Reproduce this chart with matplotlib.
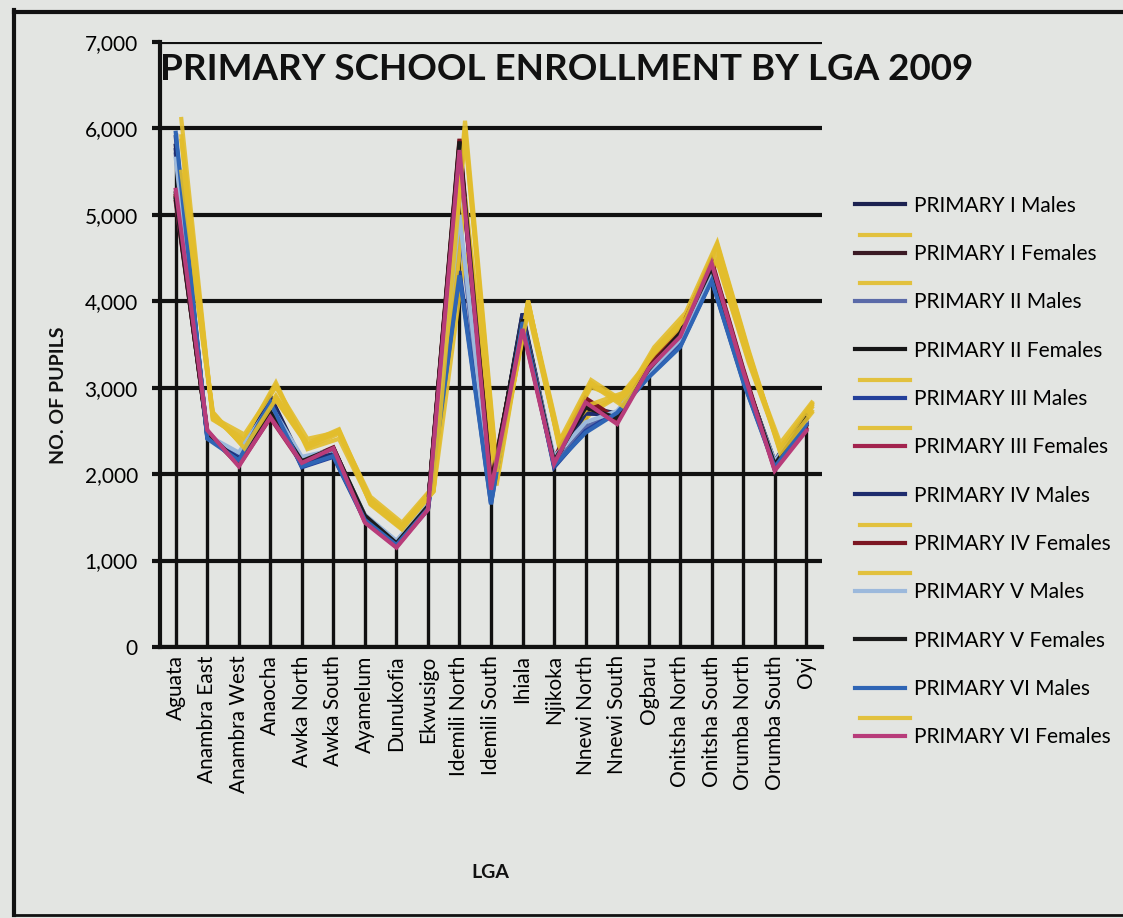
import matplotlib
matplotlib.use('Agg')
import matplotlib.pyplot as plt
import matplotlib.patheffects as pe
from matplotlib.lines import Line2D
from matplotlib.ticker import StrMethodFormatter

lgas = ['Aguata', 'Anambra East', 'Anambra West', 'Anaocha', 'Awka North', 'Awka South',
        'Ayamelum', 'Dunukofia', 'Ekwusigo', 'Idemili North', 'Idemili South', 'Ihiala',
        'Njikoka', 'Nnewi North', 'Nnewi South', 'Ogbaru', 'Onitsha North', 'Onitsha South',
        'Orumba North', 'Orumba South', 'Oyi']

p1_m = [5800, 2450, 2150, 2900, 2150, 2250, 1520, 1220, 1640, 5750, 1800, 3850, 2150, 2780, 2700, 3250, 3650, 4350, 3150, 2150, 2700]
p1_f = [5250, 2480, 2120, 2700, 2130, 2280, 1500, 1200, 1620, 5800, 1850, 3780, 2120, 2800, 2650, 3200, 3620, 4400, 3180, 2080, 2600]
p2_m = [5700, 2430, 2180, 2820, 2100, 2260, 1480, 1190, 1600, 4900, 1700, 3800, 2100, 2550, 2700, 3150, 3520, 4260, 3100, 2100, 2600]
p2_f = [5200, 2460, 2150, 2750, 2140, 2300, 1510, 1210, 1630, 5820, 1820, 3820, 2140, 2760, 2660, 3220, 3640, 4380, 3170, 2120, 2650]
p3_m = [5900, 2420, 2200, 2850, 2080, 2200, 1460, 1170, 1590, 4350, 1660, 3800, 2080, 2500, 2720, 3130, 3480, 4250, 3080, 2090, 2580]
p3_f = [5150, 2500, 2100, 2650, 2120, 2290, 1450, 1160, 1600, 5700, 1830, 3700, 2130, 2850, 2600, 3230, 3600, 4450, 3200, 2050, 2520]
p4_m = [5750, 2440, 2170, 2880, 2120, 2240, 1500, 1210, 1620, 5780, 1750, 3860, 2160, 2700, 2690, 3240, 3630, 4320, 3140, 2140, 2680]
p4_f = [5220, 2470, 2110, 2680, 2150, 2310, 1490, 1180, 1640, 5880, 1900, 3750, 2180, 2880, 2640, 3260, 3660, 4470, 3220, 2060, 2560]
p5_m = [5650, 2450, 2250, 2800, 2200, 2280, 1530, 1230, 1650, 5000, 1780, 3780, 2200, 2600, 2730, 3180, 3560, 4300, 3120, 2150, 2620]
p5_f = [5180, 2480, 2130, 2720, 2150, 2300, 1520, 1200, 1630, 5850, 1860, 3790, 2150, 2770, 2650, 3210, 3630, 4390, 3160, 2110, 2640]
p6_m = [5950, 2410, 2160, 2830, 2090, 2210, 1470, 1180, 1600, 4300, 1650, 3760, 2100, 2480, 2710, 3120, 3470, 4240, 3070, 2080, 2570]
p6_f = [5290, 2510, 2090, 2660, 2130, 2300, 1440, 1150, 1590, 5750, 1820, 3680, 2120, 2830, 2580, 3220, 3590, 4440, 3190, 2040, 2500]

series = [
    ('PRIMARY I Males', p1_m, '#1c2150', False),
    ('PRIMARY I Females', p1_f, '#3b1a24', True),
    ('PRIMARY II Males', p2_m, '#5a6aa8', True),
    ('PRIMARY II Females', p2_f, '#161616', False),
    ('PRIMARY III Males', p3_m, '#24409a', True),
    ('PRIMARY III Females', p3_f, '#a3234e', True),
    ('PRIMARY IV Males', p4_m, '#1e2c6e', False),
    ('PRIMARY IV Females', p4_f, '#7c1622', True),
    ('PRIMARY V Males', p5_m, '#9cb9dc', True),
    ('PRIMARY V Females', p5_f, '#1b1b1b', False),
    ('PRIMARY VI Males', p6_m, '#2f65b5', False),
    ('PRIMARY VI Females', p6_f, '#b83c7a', True),
]

bg = '#e3e5e2'
plt.rcParams['font.family'] = ['Lato', 'DejaVu Sans']

fig = plt.figure(figsize=(11.23, 9.18), dpi=100)
fig.patch.set_facecolor(bg)
ax = fig.add_axes([160/1123, 1-647/918, 662/1123, 605/918])
ax.set_facecolor(bg)

x = list(range(len(lgas)))

# yellow ink printed off-register, shows as a ghost line
ghost = [pe.SimpleLineShadow(offset=(4, 13), shadow_color='#e2bd2c', alpha=0.9), pe.Normal()]

handles = []
for name, vals, col, yel in series:
    ln, = ax.plot(x, vals, color=col, lw=3, label=name, zorder=3,
                  path_effects=ghost if yel else None, solid_joinstyle='miter')
    handles.append(ln)

# drop lines
tops = [max(v[i] for _, v, _, _ in series) for i in x]
ax.vlines(x, 0, tops, color='#111111', lw=2.4, zorder=2)

ax.set_xlim(-0.5, len(lgas)-0.5)
ax.set_ylim(0, 7000)
ax.set_yticks(range(0, 7001, 1000))
ax.yaxis.set_major_formatter(StrMethodFormatter('{x:,.0f}'))
ax.grid(axis='y', color='#111111', lw=3, zorder=1)
ax.set_axisbelow(True)
ax.set_xticks(x)
ax.set_xticklabels(lgas, rotation=90, fontsize=15)
ax.tick_params(axis='x', length=0, pad=6)
ax.tick_params(axis='y', length=6, width=3, color='#111111', labelsize=15, pad=10)
for s in ['top', 'right']:
    ax.spines[s].set_visible(False)
for s in ['left', 'bottom']:
    ax.spines[s].set_linewidth(3)
    ax.spines[s].set_color('#111111')

fig.text(160/1123, 1-70/918, 'PRIMARY SCHOOL ENROLLMENT BY LGA 2009',
         fontsize=26.5, fontweight='bold', va='center', ha='left', color='#111111')
fig.text(58/1123, 1-395/918, 'NO. OF PUPILS', rotation=90, fontsize=14,
         fontweight='bold', va='center', ha='center', color='#111111')
fig.text(490/1123, 1-873/918, 'LGA', fontsize=14, fontweight='bold',
         va='center', ha='center', color='#111111')

fig.legend(handles=handles, loc='upper left', bbox_to_anchor=(836/1123, 1-177/918),
           frameon=False, fontsize=15, handlelength=2.4, handletextpad=0.45,
           labelspacing=1.36)

# page border from the photo
fig.add_artist(Line2D([14/1123, 14/1123], [1-915/918, 1-10/918], color='#111111', lw=3))
fig.add_artist(Line2D([14/1123, 1], [1-12/918, 1-12/918], color='#111111', lw=3))
fig.add_artist(Line2D([14/1123, 1], [1-915/918, 1-915/918], color='#111111', lw=2))

plt.savefig('out.png', dpi=100, facecolor=bg)
print('saved')
